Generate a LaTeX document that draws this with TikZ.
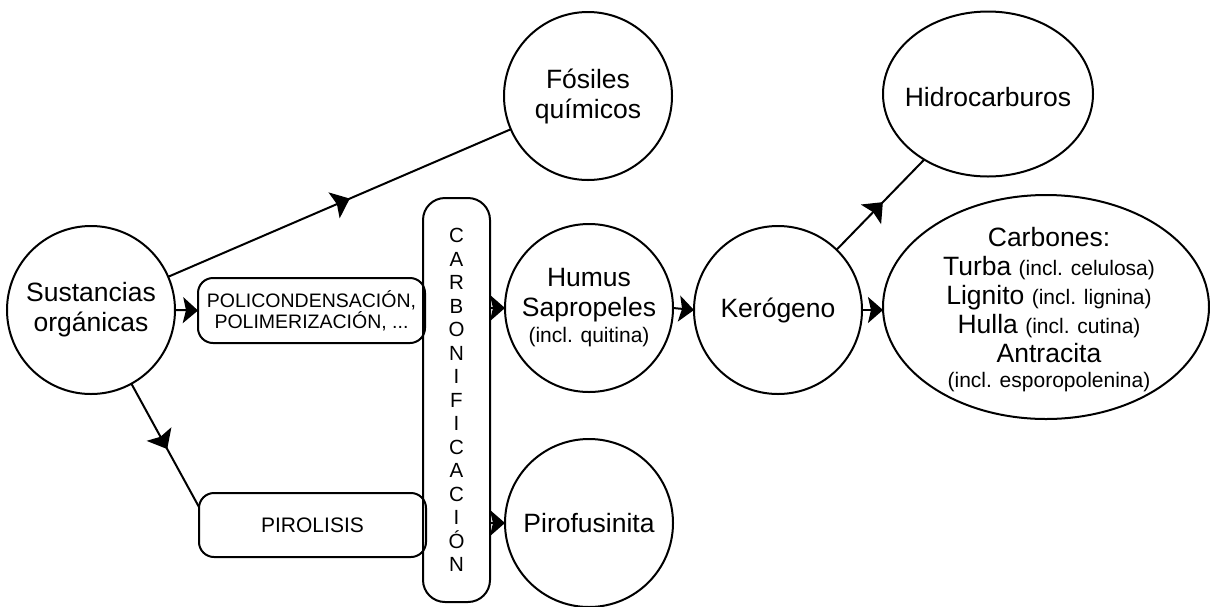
\documentclass[tikz,border=0pt]{standalone}
\usepackage{fontspec}
\setmainfont{Liberation Sans}
\usetikzlibrary{arrows.meta,shapes.geometric,decorations.markings}
\newcommand\fbig{\fontsize{26.5}{30}\selectfont}
\newcommand\fsml{\fontsize{21}{25}\selectfont}
\newcommand\fcap{\fontsize{19.5}{21}\selectfont}
\newcommand\fcol{\fontsize{20.5}{23.5}\selectfont}
\begin{document}
\begin{tikzpicture}[x=1pt,y=-1pt,
  every node/.style={inner sep=0pt, outer sep=0pt, align=center},
  lw/.style={line width=2pt},
  circ/.style={lw, draw, circle, minimum size=168pt, font=\fbig},
  ell/.style={lw, draw, ellipse},
  rbox/.style={lw, draw, rectangle, rounded corners=15pt, font=\fcap},
  tip/.style={-{Stealth[length=15pt,width=26pt,inset=3pt]}},
  midarrow/.style={decoration={markings, mark=at position 0.53 with {\arrow{Stealth[length=17pt,width=28pt,inset=3pt]}}}, postaction={decorate}}
]
\useasboundingbox (0,0) rectangle (1210,606);

% nodes
\node[circ] (sus) at (91,310) {Sustancias\\orgánicas};
\node[circ] (fos) at (588,96) {Fósiles\\químicos};
\node[circ] (hum) at (589,308) {Humus\\Sapropeles\\[-4pt]{\fsml(incl. quitina)}};
\node[circ] (ker) at (778,310) {Kerógeno};
\node[circ] (pfu) at (589,523) {Pirofusinita};
\node[ell, minimum width=210pt, minimum height=165pt] (hid) at (988,94) {};
\node[font=\fbig] (hidt) at (988,97) {Hidrocarburos};
\node[ell, minimum width=326pt, minimum height=224pt] (car) at (1046,307) {};
\node[font=\fontsize{26.5}{29}\selectfont] (cart) at (1049,310) {Carbones:\\Turba {\fsml(incl. celulosa)}\\Lignito {\fsml(incl. lignina)}\\Hulla {\fsml(incl. cutina)}\\Antracita\\[-4pt]{\fsml(incl. esporopolenina)}};

\node[rbox, minimum width=227pt, minimum height=65pt] (pol) at (311.5,310.5) {POLICONDENSACIÓN,\\POLIMERIZACIÓN, ...};
\node[rbox, minimum width=227pt, minimum height=64pt, font=\fontsize{21}{24}\selectfont] (prl) at (312.5,525) {PIROLISIS};
\node[rbox, rounded corners=22pt, minimum width=67pt, minimum height=404pt, font=\fcol] (cbn) at (456.5,400) {C\\A\\R\\B\\O\\N\\I\\F\\I\\C\\A\\C\\I\\Ó\\N};

% connectors
\draw[lw, midarrow] (sus) -- (fos);
\draw[lw, midarrow] (sus) -- (prl.171);
\draw[lw, tip] (sus.east) -- (pol.west);
\draw[lw, tip] (cbn.east |- hum.west) -- (hum.west);
\draw[lw, tip] (cbn.east |- pfu.west) -- (pfu.west);
\draw[lw, tip] (hum.east) -- (ker.west);
\draw[lw, tip] (ker.east) -- (ker.east -| car.west);
\draw[lw, midarrow] (ker) -- (hid);
\end{tikzpicture}
\end{document}
